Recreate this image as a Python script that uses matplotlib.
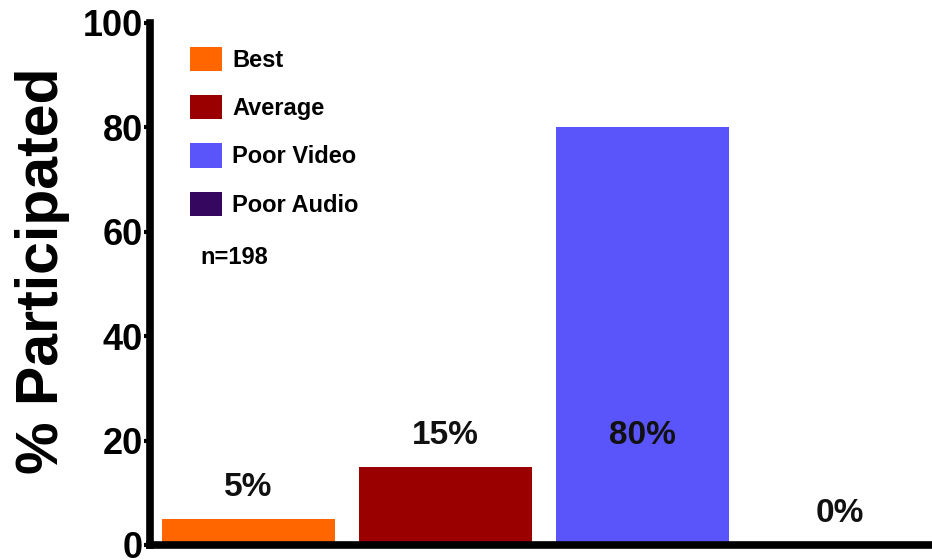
import matplotlib
matplotlib.use("Agg")
import matplotlib.pyplot as plt
from matplotlib.patches import Patch

plt.rcParams['font.family'] = ['Liberation Sans', 'DejaVu Sans']
plt.rcParams['font.weight'] = 'bold'

# Participation by quality group
categories = ["Best", "Average", "Poor Video", "Poor Audio"]
percent = [5, 15, 80, 0]
colors = ["#FF6600", "#9B0000", "#5A55FA", "#36075F"]
y_ticks = [0, 20, 40, 60, 80, 100]
sample_note = "n=198"

fig = plt.figure(figsize=(9.32, 5.6), dpi=100)
ax = fig.add_axes([150 / 932, 1 - 545 / 560, 782 / 932, 522 / 560])

x = list(range(len(categories)))
ax.bar(x, percent, width=0.875, color=colors, edgecolor='none')

# value labels: short bars get theirs just above, tall bars inside
for xi, v in zip(x, percent):
    ax.text(xi, min(v, 15) + 6, f"{v}%", ha='center', va='center',
            fontsize=24, fontweight='bold', color='#111111')

ax.set_xlim(-0.5, 3.47)
ax.set_ylim(0, 100)
ax.set_yticks(y_ticks)
ax.set_xticks([])
ax.tick_params(axis='y', labelsize=26, length=4, width=3, pad=1)
for lab in ax.get_yticklabels():
    lab.set_fontweight('bold')

for side in ('top', 'right'):
    ax.spines[side].set_visible(False)
for side in ('left', 'bottom'):
    ax.spines[side].set_linewidth(5.5)

fig.text(43 / 932, 1 - 271 / 560, "% Participated", rotation=90,
         ha='center', va='center', fontsize=42.5, fontweight='bold')

handles = [Patch(facecolor=c, edgecolor='none') for c in colors]
ax.legend(handles, categories, loc='upper left',
          bbox_to_anchor=(40 / 782, (545 - 47) / 522),
          frameon=False, borderpad=0, borderaxespad=0,
          handlelength=1.36, handleheight=1.2, handletextpad=0.42,
          labelspacing=0.98, prop={'size': 17, 'weight': 'bold'})

ax.text(0.064, (545 - 258) / 522, sample_note, transform=ax.transAxes,
        fontsize=17, fontweight='bold', ha='left', va='center')

fig.savefig("out.png", dpi=100)
